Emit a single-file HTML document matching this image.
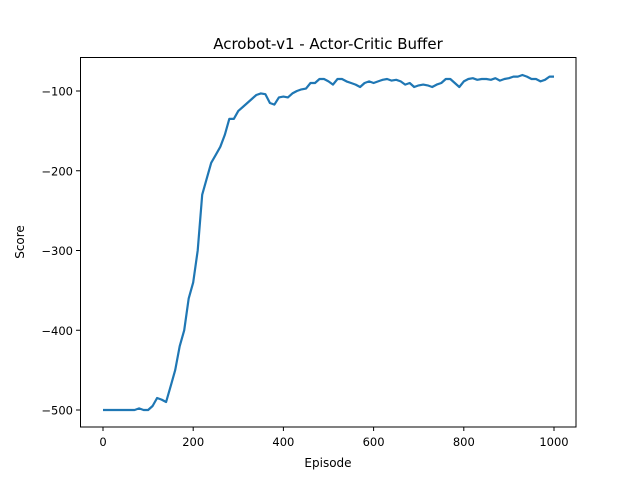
<!DOCTYPE html>
<html><head><meta charset="utf-8"><style>body{margin:0;background:#fff}svg{display:block;font-family:"DejaVu Sans","Liberation Sans",sans-serif}</style></head>
<body>
<svg width="640" height="480">
<rect width="640" height="480" fill="#fff"/>
<text x="328" y="49" text-anchor="middle" font-size="15">Acrobot-v1 - Actor-Critic Buffer</text>
<g id="xt"></g>
<g id="yt"></g>
<path id="line" fill="none" stroke="#1f77b4" stroke-width="2.2" stroke-linejoin="round"/>
<rect x="80.5" y="57.5" width="495.5" height="369.5" fill="none" stroke="#000" stroke-width="1"/>
<text x="328" y="467" text-anchor="middle" font-size="12">Episode</text>
<text transform="translate(24,242) rotate(-90)" text-anchor="middle" font-size="12">Score</text>
</svg>
<script>
const episodes = [];
for (let i = 0; i <= 100; i++) episodes.push(i * 10);
const scores = [-500,-500,-500,-500,-500,-500,-500,-500,-498,-500,-500,-495,-485,-487,-490,-470,-450,-420,-400,-360,-340,-300,-230,-210,-190,-180,-170,-155,-135,-135,-125,-120,-115,-110,-105,-103,-104,-115,-117,-108,-107,-108,-103,-100,-98,-97,-90,-90,-85,-85,-88,-92,-85,-85,-88,-90,-92,-95,-90,-88,-90,-88,-86,-85,-87,-86,-88,-92,-90,-95,-93,-92,-93,-95,-92,-90,-85,-85,-90,-95,-88,-85,-84,-86,-85,-85,-86,-84,-87,-85,-84,-82,-82,-80,-82,-85,-85,-88,-86,-82,-82];
const xTicks = [0,200,400,600,800,1000];
const yTicks = [-100,-200,-300,-400,-500];
const xs = v => 103 + v * 0.451;
const ys = v => 91 + (-100 - v) * 0.7975;
const NS = "http://www.w3.org/2000/svg";
const xt = document.getElementById('xt'), yt = document.getElementById('yt');
xTicks.forEach(t => {
  const l = document.createElementNS(NS, 'line');
  
  
  l.setAttribute('x1', xs(t)); l.setAttribute('x2', xs(t)); l.setAttribute('y1', 427); l.setAttribute('y2', 431); l.setAttribute('stroke', '#000');
  xt.appendChild(l);
  const tx = document.createElementNS(NS, 'text');
  
  
  tx.setAttribute('x', xs(t)); tx.setAttribute('y', 446); tx.setAttribute('text-anchor', 'middle'); tx.setAttribute('font-size', '11.5');
  tx.textContent = t; xt.appendChild(tx);
});
yTicks.forEach(t => {
  const l = document.createElementNS(NS, 'line');
  
  
  l.setAttribute('x1', 76); l.setAttribute('x2', 80.5); l.setAttribute('y1', ys(t)); l.setAttribute('y2', ys(t)); l.setAttribute('stroke', '#000');
  yt.appendChild(l);
  const tx = document.createElementNS(NS, 'text');
  
  
  tx.setAttribute('x', 73); tx.setAttribute('y', ys(t) + 4.5); tx.setAttribute('text-anchor', 'end'); tx.setAttribute('font-size', '11.5');
  tx.textContent = '\u2212' + Math.abs(t); yt.appendChild(tx);
});
document.getElementById('line').setAttribute('d', scores.map((s, i) => (i ? 'L' : 'M') + xs(episodes[i]).toFixed(1) + ' ' + ys(s).toFixed(1)).join(' '));
</script>
</body></html>
